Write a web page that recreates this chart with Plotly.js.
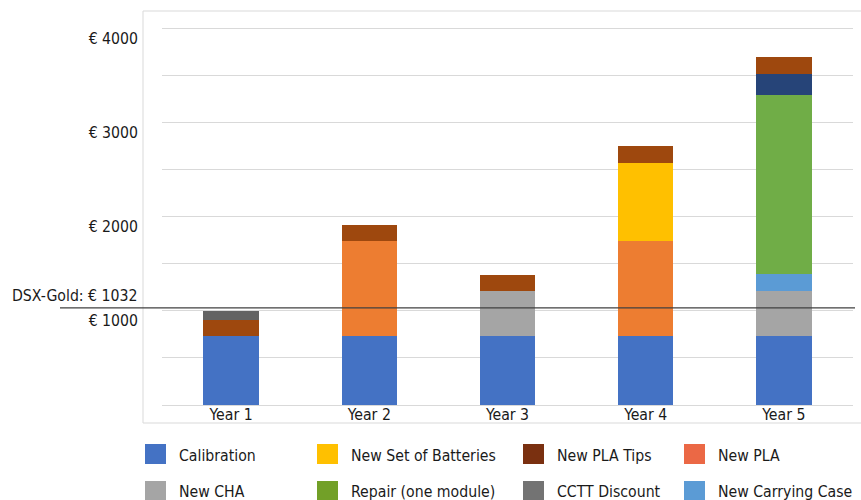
<!DOCTYPE html>
<html>
<head>
<meta charset="utf-8">
<script src="https://cdn.plot.ly/plotly-3.0.1.min.js"></script>
<style>html,body{margin:0;padding:0;background:#fff;}#chart{width:861px;height:500px;}</style>
</head>
<body>
<div id="chart"></div>
<script>
// ---- data ----
const years = ['Year 1', 'Year 2', 'Year 3', 'Year 4', 'Year 5'];
const calibration   = [730, 730, 730, 730, 730];
const newCHA        = [0, 0, 485, 0, 483];
const carryingCase  = [0, 0, 0, 0, 181];
const newPLA        = [0, 1015, 0, 1015, 0];
const batteries     = [0, 0, 0, 830, 0];
const repair        = [0, 0, 0, 0, 1905];
const unlabelled    = [0, 0, 0, 0, 223];
const plaTips       = [170, 170, 170, 175, 174];
const ccttDiscount  = [100, 0, 0, 0, 0];
const dsxGold = 1032;
const yTickVals = [1000, 2000, 3000, 4000];
const yTickText = ['€ 1000', '€ 2000', '€ 3000', '€ 4000'];

const legendRow1 = ['Calibration', 'New Set of Batteries', 'New PLA Tips', 'New PLA'];
const legendRow2 = ['New CHA', 'Repair (one module)', 'CCTT Discount', 'New Carrying Case'];
const legendColorsRow1 = ['#4472C4', '#FFC000', '#7A3010', '#EB6845'];
const legendColorsRow2 = ['#A5A5A5', '#72A028', '#737373', '#5B9BD5'];

// ---- styling ----
const FONT = "'DejaVu Sans Condensed', 'Liberation Sans Narrow', 'DejaVu Sans', sans-serif";
const FS = 15.7;
const TXT = '#1a1a1a';
const W = 861, H = 500;
const M = {l: 162, r: 8, t: 10, b: 95};
const PW = W - M.l - M.r, PH = H - M.t - M.b;
const px2x = x => (x - M.l) / PW;
const px2y = y => (H - M.b - y) / PH;

const series = [
  {name: 'Calibration', y: calibration, color: '#4472C4'},
  {name: 'New CHA', y: newCHA, color: '#A5A5A5'},
  {name: 'New Carrying Case', y: carryingCase, color: '#5B9BD5'},
  {name: 'New PLA', y: newPLA, color: '#ED7D31'},
  {name: 'New Set of Batteries', y: batteries, color: '#FFC000'},
  {name: 'Repair (one module)', y: repair, color: '#70AD47'},
  {name: 'Other', y: unlabelled, color: '#264478'},
  {name: 'New PLA Tips', y: plaTips, color: '#9E480E'},
  {name: 'CCTT Discount', y: ccttDiscount, color: '#636363'}
];

const traces = series.map(s => ({
  type: 'bar', x: years, y: s.y, name: s.name,
  marker: {color: s.color, line: {width: 0}},
  showlegend: false, hoverinfo: 'x+y+name'
}));

const shapes = [
  // outer light frame
  {type: 'rect', xref: 'paper', yref: 'paper', x0: px2x(143), x1: px2x(875), y0: px2y(423), y1: px2y(11),
   line: {color: '#d9d9d9', width: 1}, fillcolor: 'rgba(0,0,0,0)', layer: 'below'},
  // DSX-Gold reference line
  {type: 'line', xref: 'paper', yref: 'y', x0: px2x(60), x1: px2x(855), y0: dsxGold, y1: dsxGold,
   line: {color: '#404040', width: 1.2}, layer: 'above'}
];

const annotations = [
  {xref: 'paper', yref: 'y', x: px2x(139), y: dsxGold, xanchor: 'right', yanchor: 'bottom',
   text: 'DSX-Gold: € ' + dsxGold, showarrow: false, font: {family: FONT, size: FS, color: TXT}, yshift: 1}
];

const colX = [145, 317, 523, 684];
const rows = [
  {labels: legendRow1, colors: legendColorsRow1, y0: 444, y1: 464, ty: 455},
  {labels: legendRow2, colors: legendColorsRow2, y0: 481, y1: 501, ty: 491}
];
rows.forEach(r => {
  r.labels.forEach((lab, i) => {
    shapes.push({type: 'rect', xref: 'paper', yref: 'paper',
      x0: px2x(colX[i]), x1: px2x(colX[i] + 21), y0: px2y(r.y1), y1: px2y(r.y0),
      line: {width: 0}, fillcolor: r.colors[i], layer: 'above'});
    annotations.push({xref: 'paper', yref: 'paper', x: px2x(colX[i] + 32), y: px2y(r.ty),
      xanchor: 'left', yanchor: 'middle', text: lab, showarrow: false,
      font: {family: FONT, size: FS, color: TXT}});
  });
});

const layout = {
  width: W, height: H,
  margin: M,
  paper_bgcolor: '#ffffff', plot_bgcolor: '#ffffff',
  barmode: 'stack', bargap: 0.6,
  showlegend: false,
  font: {family: FONT, size: FS, color: TXT},
  xaxis: {
    type: 'category', showgrid: false, zeroline: false, showline: false, ticks: '',
    tickfont: {family: FONT, size: FS, color: TXT}, ticklabelstandoff: -2
  },
  yaxis: {
    range: [0, 4200], tickmode: 'array', tickvals: yTickVals, ticktext: yTickText,
    showgrid: true, gridcolor: '#d9d9d9', gridwidth: 1,
    minor: {tick0: 0, dtick: 500, showgrid: true, gridcolor: '#d9d9d9', gridwidth: 1},
    zeroline: true, zerolinecolor: '#d9d9d9', zerolinewidth: 1,
    showline: false, ticks: '', ticklabelstandoff: 23, ticklabelshift: 10,
    tickfont: {family: FONT, size: FS, color: TXT}
  },
  shapes: shapes,
  annotations: annotations
};

Plotly.newPlot('chart', traces, layout, {displayModeBar: false, staticPlot: true});
</script>
</body>
</html>
